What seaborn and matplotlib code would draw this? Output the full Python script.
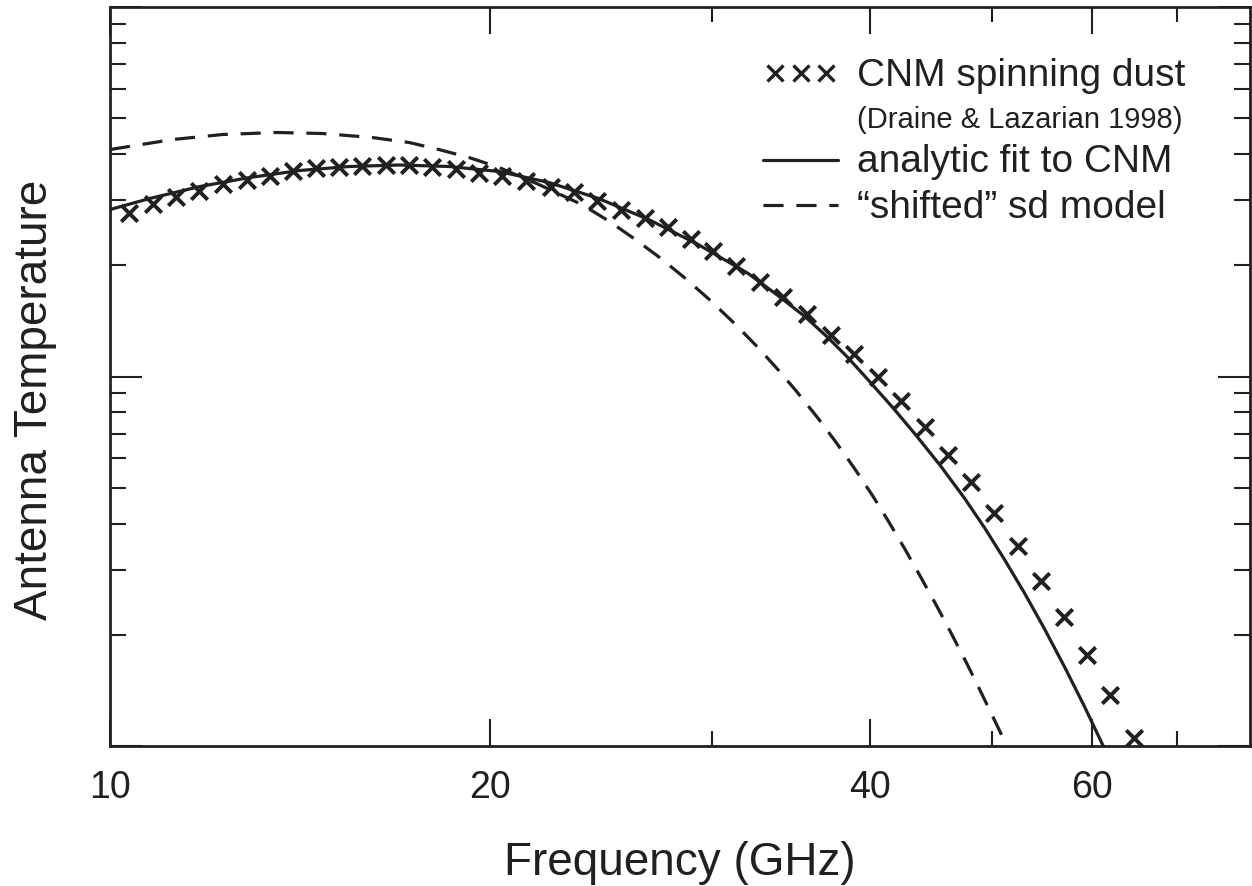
import matplotlib
matplotlib.use("Agg")
import matplotlib.pyplot as plt
from matplotlib.lines import Line2D
from matplotlib.legend_handler import HandlerLine2D
from matplotlib.ticker import FixedLocator, NullFormatter
import seaborn as sns

# CNM spinning dust (Draine & Lazarian 1998) - crosses
cnm_freq = [10.35, 10.81, 11.27, 11.76, 12.28, 12.83, 13.38, 13.95, 14.57, 15.19,
            15.84, 16.55, 17.26, 17.99, 18.79, 19.60, 20.44, 21.36, 22.35, 23.30,
            24.29, 25.42, 26.55, 27.69, 28.87, 30.05, 31.34, 32.73, 34.13, 35.65,
            37.24, 38.84, 40.58, 42.31, 44.19, 46.08, 48.05, 50.19, 52.42, 54.66,
            57.00, 59.44, 61.98, 64.75]
cnm_temp = [2.778, 2.921, 3.070, 3.168, 3.309, 3.413, 3.499, 3.588, 3.678, 3.701,
            3.724, 3.747, 3.747, 3.701, 3.633, 3.565, 3.499, 3.371, 3.267, 3.148,
            2.976, 2.831, 2.693, 2.531, 2.349, 2.180, 1.997, 1.807, 1.646, 1.472,
            1.299, 1.147, 1.000, 0.861, 0.732, 0.615, 0.517, 0.426, 0.347, 0.279,
            0.224, 0.176, 0.137, 0.1048]

# analytic fit to CNM (solid)
fit_freq = [10.00, 10.75, 11.78, 12.90, 14.13, 15.47, 16.95, 18.56, 20.33, 22.27,
            24.38, 26.71, 29.24, 32.03, 33.82, 35.52, 37.04, 38.41, 39.84, 41.69,
            43.46, 45.50, 47.53, 49.29, 51.11, 53.01, 54.97, 57.00, 59.11, 60.97,
            61.64]
fit_temp = [2.831, 3.032, 3.267, 3.456, 3.610, 3.701, 3.736, 3.701, 3.588, 3.350,
            3.032, 2.660, 2.276, 1.900, 1.656, 1.453, 1.275, 1.126, 0.9815, 0.8244,
            0.6962, 0.5727, 0.4681, 0.3898, 0.3201, 0.2597, 0.2080, 0.1645, 0.1285, 0.1029,
            0.0948]

# "shifted" sd model (dashed)
shift_freq = [10.00, 11.21, 12.28, 13.55, 14.73, 16.13, 17.26, 18.22, 19.25, 20.33,
              21.86, 23.64, 24.83, 26.08, 27.29, 28.56, 29.89, 31.16, 32.44, 33.70,
              34.95, 36.37, 37.58, 38.91, 40.21, 41.31, 42.61, 43.86, 45.17, 46.42,
              47.71, 48.84, 50.19, 51.40, 51.96]
shift_temp = [4.114, 4.379, 4.518, 4.575, 4.546, 4.434, 4.298, 4.114, 3.914, 3.678,
              3.309, 2.921, 2.637, 2.347, 2.092, 1.843, 1.607, 1.403, 1.220, 1.058,
              0.915, 0.772, 0.665, 0.562, 0.4745, 0.4089, 0.3420, 0.2872, 0.2395, 0.2009,
              0.1676, 0.1426, 0.1176, 0.0993, 0.0916]

x_major = [10, 20, 40, 60]
x_minor = [30, 50, 70]
x_labels = ["10", "20", "40", "60"]

legend_labels = ["CNM spinning dust", "(Draine & Lazarian 1998)",
                 "analytic fit to CNM", "\u201cshifted\u201d sd model"]

sns.set_style("ticks")
plt.rcParams["font.family"] = ["Liberation Sans", "DejaVu Sans"]

ink = "#231f20"
dash = (0, (6.3, 4))

fig = plt.figure(figsize=(12.52, 8.86), dpi=100)
ax = fig.add_axes([0.0879, 0.1580, 0.9105, 0.8341])

sns.lineplot(x=fit_freq, y=fit_temp, ax=ax, color=ink, lw=2.3,
             estimator=None, sort=False, legend=False)
sns.lineplot(x=shift_freq, y=shift_temp, ax=ax, color=ink, lw=2.3, linestyle=dash,
             estimator=None, sort=False, legend=False)
sns.scatterplot(x=cnm_freq, y=cnm_temp, ax=ax, marker="x", color=ink,
                s=140, linewidth=2.8, legend=False)

ax.set_xscale("log")
ax.set_yscale("log")
ax.set_xlim(10, 80)
ax.set_ylim(0.1, 10)

ax.xaxis.set_major_locator(FixedLocator(x_major))
ax.xaxis.set_minor_locator(FixedLocator(x_minor))
ax.set_xticklabels(x_labels)
ax.xaxis.set_minor_formatter(NullFormatter())
ax.yaxis.set_major_formatter(NullFormatter())
ax.yaxis.set_minor_formatter(NullFormatter())

ax.tick_params(which="both", direction="in", top=True, right=True,
               color=ink, width=1.5)
ax.tick_params(axis="x", which="major", length=19.5, pad=17,
               labelsize=27, labelcolor=ink)
ax.tick_params(axis="x", which="minor", length=11)
ax.tick_params(axis="y", which="major", length=23)
ax.tick_params(axis="y", which="minor", length=11.5)

for sp in ax.spines.values():
    sp.set_linewidth(2)
    sp.set_color(ink)

ax.set_xlabel("Frequency (GHz)", fontsize=33, color=ink)
ax.set_ylabel("Antenna Temperature", fontsize=33, color=ink)
ax.xaxis.set_label_coords(0.5, -0.128)
ax.yaxis.set_label_coords(-0.0465, 0.468)

# legend: three crosses for the model points, full-length lines for the curves
cross_h = Line2D([], [], ls="none", marker="x", ms=11, mew=2.4, color=ink)
blank_h = Line2D([], [], ls="none")
solid_h = Line2D([], [], color=ink, lw=2.3)
dash_h = Line2D([], [], color=ink, lw=2.3, ls=dash)
leg = ax.legend([cross_h, blank_h, solid_h, dash_h], legend_labels, loc="upper left",
                bbox_to_anchor=(0.5728, 0.9314), frameon=False, fontsize=28,
                numpoints=3, handlelength=1.93, handleheight=0.5,
                handletextpad=0.49, labelspacing=0.25, borderpad=0,
                borderaxespad=0, labelcolor=ink,
                handler_map={solid_h: HandlerLine2D(numpoints=1),
                             dash_h: HandlerLine2D(numpoints=1)})
leg.get_texts()[1].set_fontsize(21)

fig.savefig("out.png", dpi=100)
